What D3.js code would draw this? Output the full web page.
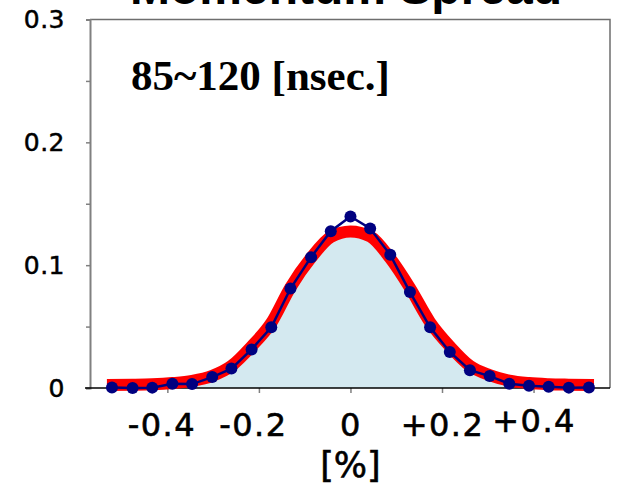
<!DOCTYPE html>
<html>
<head>
<meta charset="utf-8">
<script src="https://cdn.jsdelivr.net/npm/d3@7"></script>
<style>
  html, body { margin: 0; padding: 0; background: #fff; }
  svg { display: block; }
</style>
</head>
<body>
<svg id="chart" width="622" height="490"></svg>
<script>
// momentum spread, 85~120 nsec window

// measured points (blue)
const dotX = [-0.521, -0.476, -0.433, -0.389, -0.346, -0.302, -0.260, -0.216, -0.173, -0.131, -0.086, -0.043, 0,
    0.043, 0.087, 0.130, 0.174, 0.217, 0.261, 0.304, 0.347, 0.390, 0.433, 0.477, 0.521];
const dotY = [0.0005, 0.0000, 0.0003, 0.0035, 0.0032, 0.0089, 0.0158, 0.0314, 0.0494, 0.0810, 0.1065, 0.1277, 0.1396,
    0.1299, 0.1084, 0.0781, 0.0494, 0.0293, 0.0145, 0.0097, 0.0035, 0.0019, 0.0011, 0.0003, 0.0005];

// simulated curve (red band)
const simX = [-0.532, -0.476, -0.433, -0.389, -0.346, -0.302, -0.260, -0.216, -0.173, -0.131, -0.086, -0.043, 0,
    0.043, 0.087, 0.130, 0.174, 0.217, 0.261, 0.304, 0.347, 0.390, 0.433, 0.477, 0.532];
const simY = [0.0024, 0.0026, 0.0030, 0.0040, 0.0058, 0.0099, 0.0180, 0.0340, 0.0530, 0.0820, 0.1060, 0.1230, 0.1275,
    0.1235, 0.1055, 0.0815, 0.0535, 0.0340, 0.0180, 0.0105, 0.0060, 0.0040, 0.0031, 0.0027, 0.0024];

const yTicks = [0, 0.05, 0.1, 0.15, 0.2, 0.25, 0.3];
const yLabels = ['0', '', '0.1', '', '0.2', '', '0.3'];
const xTicks = [-0.4, -0.2, 0, 0.2, 0.4];
const xLabels = ['-0.4', '-0.2', '0', '+0.2', '+0.4'];

const COLORS = {
    fill: '#d4e9f0',
    sim: '#ff0000',
    data: '#000080',
    axis: '#808080',
    ink: '#000',
};

const svg = d3.select('#chart');
const x = d3.scaleLinear().domain([-0.569, 0.567]).range([90, 610]);
const y = d3.scaleLinear().domain([0, 0.3]).range([388, 19.5]);

const sim = simX.map((v, i) => ({ x: v, y: simY[i] }));
const pts = dotX.map((v, i) => ({ x: v, y: dotY[i] }));

// title (cut at top edge, as in the source figure)
svg.append('text')
    .attr('x', 346).attr('y', 4)
    .attr('text-anchor', 'middle')
    .attr('font-family', 'Liberation Sans, Arial, sans-serif')
    .attr('font-weight', 'bold')
    .attr('font-size', 48)
    .text('Momentum Spread');

// filled area under simulation
svg.append('path')
    .datum(sim)
    .attr('fill', COLORS.fill)
    .attr('d', d3.area().x((d) => x(d.x)).y0(y(0)).y1((d) => y(d.y)).curve(d3.curveMonotoneX));

// frame
svg.append('path')
    .attr('d', `M${x.range()[0]},${y.range()[1]}H${x.range()[1]}V${y.range()[0]}`)
    .attr('fill', 'none')
    .attr('stroke', '#6e6e6e')
    .attr('stroke-width', 1.5);

// y axis
const gy = svg.append('g')
    .attr('transform', `translate(${x.range()[0]},0)`)
    .call(d3.axisLeft(y).tickValues(yTicks).tickSize(4).tickPadding(21).tickFormat((d, i) => yLabels[i]));
gy.select('.domain').attr('stroke', COLORS.axis).attr('stroke-width', 2);
gy.selectAll('.tick line').attr('stroke', COLORS.axis).attr('stroke-width', 1.5);
gy.selectAll('.tick text')
    .attr('fill', COLORS.ink)
    .attr('stroke', COLORS.ink)
    .attr('stroke-width', 0.5)
    .attr('letter-spacing', 0.5)
    .attr('font-family', 'DejaVu Sans, sans-serif')
    .attr('font-size', 25);

// x axis
const gx = svg.append('g')
    .attr('transform', `translate(0,${y(0)})`)
    .call(d3.axisBottom(x).tickValues(xTicks).tickSize(5).tickPadding(20).tickFormat((d, i) => xLabels[i]));
gx.select('.domain').remove();
gx.append('line')
    .attr('x1', x.range()[0] - 5).attr('x2', x.range()[1])
    .attr('stroke', COLORS.ink).attr('stroke-width', 1.5);
gx.selectAll('.tick line').attr('stroke', COLORS.axis).attr('stroke-width', 1.5);
gx.selectAll('.tick text')
    .attr('fill', COLORS.ink)
    .attr('stroke', COLORS.ink)
    .attr('stroke-width', 0.6)
    .attr('letter-spacing', 1.5)
    .attr('font-family', 'DejaVu Sans, sans-serif')
    .attr('font-size', 32)
    .attr('dx', (d) => (d < 0 ? -6 : 0))
    .attr('dy', (d, i) => (i === xTicks.length - 1 ? '0.6em' : '0.71em'));

// x axis title
svg.append('text')
    .attr('x', x(0)).attr('y', 477)
    .attr('text-anchor', 'middle')
    .attr('fill', COLORS.ink)
    .attr('stroke', COLORS.ink)
    .attr('stroke-width', 0.6)
    .attr('font-family', 'DejaVu Sans, sans-serif')
    .attr('font-size', 35)
    .text('[%]');

// red simulation band
svg.append('path')
    .datum(sim)
    .attr('fill', 'none')
    .attr('stroke', COLORS.sim)
    .attr('stroke-width', 12)
    .attr('d', d3.line().x((d) => x(d.x)).y((d) => y(d.y)).curve(d3.curveMonotoneX));

// measured data
svg.append('path')
    .datum(pts)
    .attr('fill', 'none')
    .attr('stroke', COLORS.data)
    .attr('stroke-width', 2.5)
    .attr('d', d3.line().x((d) => x(d.x)).y((d) => y(d.y)));

svg.selectAll('circle.dot')
    .data(pts)
    .enter()
    .append('circle')
    .attr('class', 'dot')
    .attr('cx', (d) => x(d.x))
    .attr('cy', (d) => y(d.y))
    .attr('r', 6)
    .attr('fill', COLORS.data);

// time window label
svg.append('text')
    .attr('x', 131).attr('y', 90)
    .attr('font-family', 'Liberation Serif, Times New Roman, serif')
    .attr('font-weight', 'bold')
    .attr('font-size', 43)
    .text('85~120 [nsec.]');
</script>
</body>
</html>
